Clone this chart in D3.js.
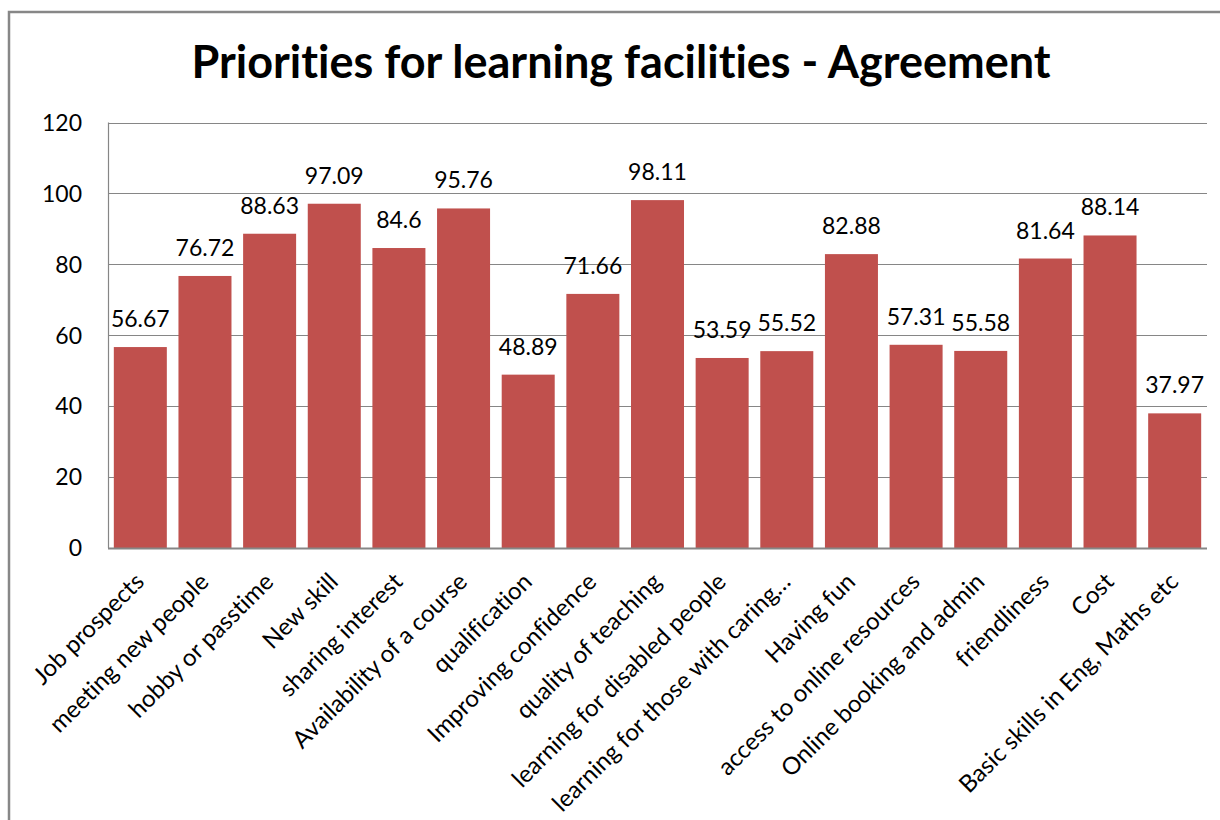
<!DOCTYPE html>
<html><head><meta charset="utf-8">
<script src="https://cdn.jsdelivr.net/npm/d3@7"></script>
<style>
html,body{margin:0;padding:0;background:#fff;}
svg{display:block;}
text{font-family:Lato, "Open Sans", sans-serif;fill:#000;font-variant-ligatures:none;font-feature-settings:"liga" 0;}
</style></head>
<body>
<svg id="chart" width="1220" height="820"></svg>
<script>
const categories = ["Job prospects","meeting new people","hobby or passtime","New skill","sharing interest","Availability of a course","qualification","Improving confidence","quality of teaching","learning for disabled people","learning for those with caring\u2026","Having fun","access to online resources","Online booking and admin","friendliness","Cost","Basic skills in Eng, Maths etc"];
const values = [56.67,76.72,88.63,97.09,84.6,95.76,48.89,71.66,98.11,53.59,55.52,82.88,57.31,55.58,81.64,88.14,37.97];
const valueLabels = ["56.67","76.72","88.63","97.09","84.6","95.76","48.89","71.66","98.11","53.59","55.52","82.88","57.31","55.58","81.64","88.14","37.97"];
const yTicks = [0,20,40,60,80,100,120];
const title = "Priorities for learning facilities - Agreement";

const svg = d3.select("#chart");
const plot = {left:108, right:1207, top:122.5, bottom:548};

// outer chart border
svg.append("path").attr("d","M9,820 L9,12 L1220,12").attr("fill","none").attr("stroke","#878787").attr("stroke-width",2.5);

const x = d3.scaleBand().domain(categories).range([plot.left, plot.right]).paddingInner(0.18).paddingOuter(0.09);
const y = d3.scaleLinear().domain([0,120]).range([plot.bottom, plot.top]);

// gridlines
svg.append("g").selectAll("line").data(yTicks.filter(t=>t>0)).join("line")
  .attr("x1",plot.left).attr("x2",plot.right)
  .attr("y1",d=>Math.round(y(d))+0.5).attr("y2",d=>Math.round(y(d))+0.5)
  .attr("stroke","#868686").attr("stroke-width",1.2);

// left axis line
svg.append("line").attr("x1",plot.left+0.5).attr("x2",plot.left+0.5).attr("y1",plot.top).attr("y2",plot.bottom)
  .attr("stroke","#868686").attr("stroke-width",1.2);

// bars
svg.append("g").selectAll("rect").data(values).join("rect")
  .attr("x",(d,i)=>x(categories[i])).attr("width",x.bandwidth())
  .attr("y",d=>y(d)).attr("height",d=>y(0)-y(d))
  .attr("fill","#C0504D");

// bottom axis line
svg.append("line").attr("x1",plot.left).attr("x2",plot.right).attr("y1",plot.bottom+0.5).attr("y2",plot.bottom+0.5)
  .attr("stroke","#868686").attr("stroke-width",2.2);

// y tick labels
svg.append("g").selectAll("text").data(yTicks).join("text")
  .attr("x",82).attr("y",d=>y(d)).attr("dy","0.36em")
  .attr("text-anchor","end").attr("font-size",23).text(d=>d);

// value labels
svg.append("g").selectAll("text").data(values).join("text")
  .attr("x",(d,i)=>x(categories[i])+x.bandwidth()/2).attr("y",d=>y(d)-20)
  .attr("text-anchor","middle").attr("font-size",23).text((d,i)=>valueLabels[i]);

// x labels
svg.append("g").selectAll("text").data(categories).join("text")
  .attr("transform",d=>`translate(${x(d)+x.bandwidth()/2-7.5},${plot.bottom+22.5}) rotate(-45)`)
  .attr("text-anchor","end").attr("dy","0.75em").attr("font-size",24).text(d=>d);

// title
svg.append("text").attr("x",621).attr("y",78).attr("text-anchor","middle")
  .attr("font-size",45).attr("font-weight","bold").text(title);
</script>
</body></html>
